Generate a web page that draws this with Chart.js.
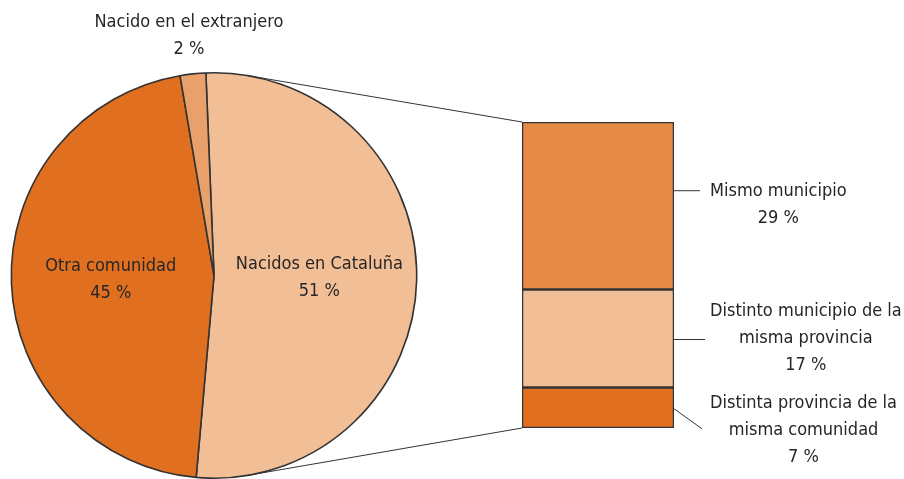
<!DOCTYPE html>
<html>
<head>
<meta charset="utf-8">
<script src="https://cdn.jsdelivr.net/npm/chart.js@4/dist/chart.umd.min.js"></script>
<style>
  html, body { margin: 0; padding: 0; background: #fff; overflow: hidden; }
  #wrap { position: relative; width: 904px; height: 479px; }
  canvas { position: absolute; left: 0; top: 0; }
</style>
</head>
<body>
<div id="wrap">
  <canvas id="pie" width="904" height="479"></canvas>
  <canvas id="bar" width="904" height="479"></canvas>
</div>
<script>
// ---- data ----
const pieLabels = ['Nacidos en Cataluña', 'Otra comunidad', 'Nacido en el extranjero'];
const pieValues = [51, 45, 2];
const barLabels = [
  ['Distinta provincia de la', 'misma comunidad'],
  ['Distinto municipio de la', 'misma provincia'],
  ['Mismo municipio']
];
const barValues = [7, 17, 29];

// ---- styles ----
const pieColors = ['#F2BE96', '#E0701F', '#EAA06A'];
const barColors = ['#E0701F', '#F2BE96', '#E68A45'];
const lineColor = '#333333';
const textColor = '#262626';
const FONT = '18px "DejaVu Sans Condensed", "DejaVu Sans", sans-serif';
const LINE_H = 27;

function drawBlock(ctx, lines, cx, cy) {
  ctx.save();
  ctx.font = FONT;
  ctx.fillStyle = textColor;
  ctx.textAlign = 'center';
  ctx.textBaseline = 'middle';
  const top = cy - (lines.length - 1) * LINE_H / 2;
  lines.forEach((t, i) => ctx.fillText(t, cx, top + i * LINE_H));
  ctx.restore();
}

const pieLabelPlugin = {
  id: 'pieLabels',
  afterDatasetsDraw(chart) {
    const ctx = chart.ctx;
    const meta = chart.getDatasetMeta(0);
    const radial = [0.52, 0.51, 1.19];
    meta.data.forEach((arc, i) => {
      const p = arc.getProps(['x', 'y', 'startAngle', 'endAngle', 'outerRadius'], true);
      const mid = (p.startAngle + p.endAngle) / 2;
      const r = p.outerRadius * radial[i];
      const cx = p.x + Math.cos(mid) * r;
      const cy = p.y + Math.sin(mid) * r;
      drawBlock(ctx, [pieLabels[i], pieValues[i] + ' %'], cx, cy);
    });
  }
};

const pieChart = new Chart(document.getElementById('pie'), {
  type: 'pie',
  data: {
    labels: pieLabels,
    datasets: [{
      data: pieValues,
      backgroundColor: pieColors,
      borderColor: lineColor,
      borderWidth: 1.6
    }]
  },
  options: {
    responsive: false,
    animation: false,
    rotation: -2.3,
    layout: { padding: { left: 10, top: 72, right: 486, bottom: -1 } },
    plugins: { legend: { display: false }, tooltip: { enabled: false } }
  },
  plugins: [pieLabelPlugin]
});

function tangentPoint(cx, cy, r, px, py, upper) {
  const dx = px - cx, dy = py - cy;
  const d = Math.hypot(dx, dy);
  const th = Math.atan2(dy, dx);
  const a = Math.acos(r / d);
  const t1 = th - a, t2 = th + a;
  const p1 = [cx + r * Math.cos(t1), cy + r * Math.sin(t1)];
  const p2 = [cx + r * Math.cos(t2), cy + r * Math.sin(t2)];
  if (upper) return p1[1] < p2[1] ? p1 : p2;
  return p1[1] > p2[1] ? p1 : p2;
}

const barExtras = {
  id: 'barExtras',
  afterDatasetsDraw(chart) {
    const ctx = chart.ctx;
    const bars = chart.data.datasets.map((d, i) => chart.getDatasetMeta(i).data[0].getProps(['x', 'y', 'base', 'width'], true));
    const left = bars[0].x - bars[0].width / 2;
    const right = bars[0].x + bars[0].width / 2;
    const topY = Math.min(...bars.map(b => Math.min(b.y, b.base)));
    const botY = Math.max(...bars.map(b => Math.max(b.y, b.base)));

    // connectors to pie
    const arc = pieChart.getDatasetMeta(0).data[0].getProps(['x', 'y', 'outerRadius'], true);
    const tTop = tangentPoint(arc.x, arc.y, arc.outerRadius, left, topY, true);
    const tBot = tangentPoint(arc.x, arc.y, arc.outerRadius, left, botY, false);
    ctx.save();
    ctx.strokeStyle = lineColor;
    ctx.lineWidth = 1;
    ctx.beginPath();
    ctx.moveTo(tTop[0], tTop[1]); ctx.lineTo(left, topY);
    ctx.moveTo(tBot[0], tBot[1]); ctx.lineTo(left, botY);
    ctx.stroke();
    ctx.restore();

    // labels with leader lines
    const cfg = [
      { ly0: 1, lx1: 28, ly1: 21, dy: 23 },   // bottom segment
      { ly0: 1, lx1: 31, ly1: 1, dy: 0 },     // middle segment
      { ly0: -15, lx1: 26, ly1: -15, dy: -1 } // top segment
    ];
    ctx.save();
    ctx.font = FONT;
    bars.forEach((b, i) => {
      const segC = (b.y + b.base) / 2;
      const c = cfg[i];
      ctx.strokeStyle = lineColor;
      ctx.lineWidth = 1;
      ctx.beginPath();
      ctx.moveTo(right, segC + c.ly0);
      ctx.lineTo(right + c.lx1, segC + c.ly1);
      ctx.stroke();
      const lines = barLabels[i].concat([barValues[i] + ' %']);
      const w = Math.max(...lines.map(t => ctx.measureText(t).width));
      drawBlock(ctx, lines, right + 36 + w / 2, segC + c.dy);
    });
    ctx.restore();
  }
};

new Chart(document.getElementById('bar'), {
  type: 'bar',
  data: {
    labels: [''],
    datasets: barValues.map((v, i) => ({
      label: barLabels[i].join(' '),
      data: [v],
      backgroundColor: barColors[i],
      borderColor: lineColor,
      borderWidth: 1.6,
      borderSkipped: false,
      barPercentage: 1,
      categoryPercentage: 1
    }))
  },
  options: {
    responsive: false,
    animation: false,
    layout: { padding: { left: 522, right: 230, top: 122, bottom: 51 } },
    scales: {
      x: { stacked: true, display: false },
      y: { stacked: true, display: false, min: 0, max: barValues.reduce((a, b) => a + b, 0) }
    },
    plugins: { legend: { display: false }, tooltip: { enabled: false } }
  },
  plugins: [barExtras]
});
</script>
</body>
</html>
